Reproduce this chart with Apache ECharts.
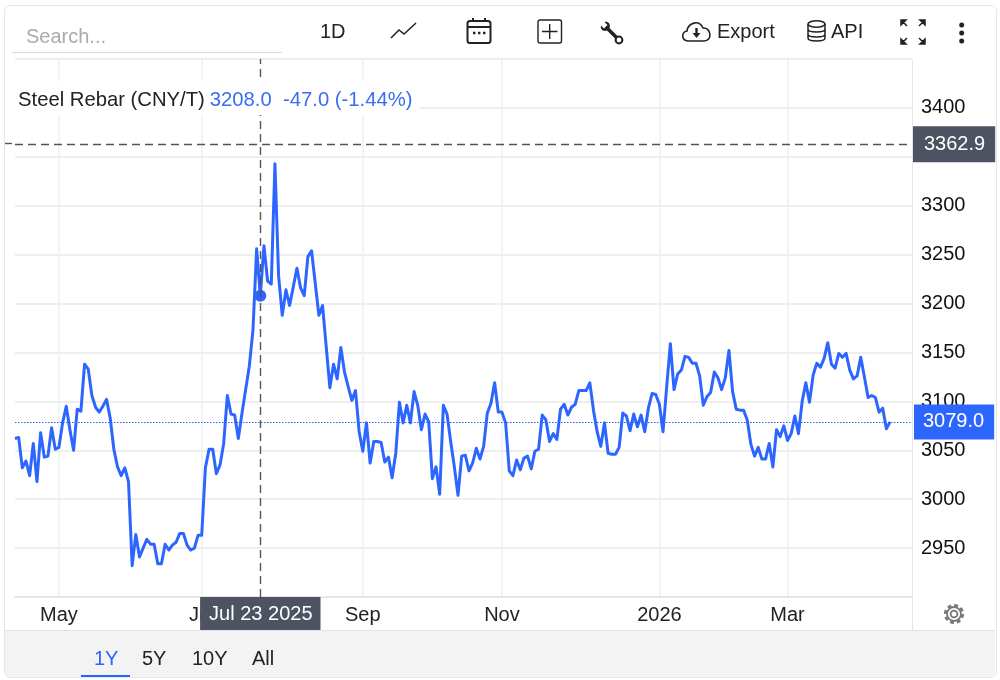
<!DOCTYPE html>
<html>
<head>
<meta charset="utf-8">
<title>Steel Rebar</title>
<script src="https://cdn.jsdelivr.net/npm/echarts@6/dist/echarts.min.js"></script>
<style>
html,body{margin:0;padding:0;background:#fff;font-family:"Liberation Sans",Arial,sans-serif;color:#222;}
#wrap{position:relative;width:1000px;height:680px;overflow:hidden;}
#one{position:absolute;left:0;top:0;width:1000px;height:680px;}
.ui{position:absolute;font-size:20px;line-height:24px;white-space:nowrap;}
.ico{position:absolute;overflow:visible;}
#card{position:absolute;left:4px;top:5px;width:991px;height:671px;border:1px solid #e6e6e6;border-radius:6px;}
#foot{position:absolute;left:5px;top:630px;width:990px;height:46px;background:#f3f3f3;border-top:1px solid #e3e3e3;border-radius:0 0 6px 6px;}
#search{position:absolute;left:12px;top:52px;width:270px;height:1px;background:#dcdcdc;}
#under{position:absolute;left:81px;top:675px;width:49px;height:2px;background:#2962ff;}
</style>
</head>
<body>
<div id="wrap">
	<div id="foot"></div>
	<div id="one"></div>
	<div id="card"></div>
	<div id="search"></div>
	<div class="ui" style="left:26px;top:24px;color:#aaa;">Search...</div>
	<div class="ui" style="left:320px;top:19px;">1D</div>
	<svg class="ico" style="left:390px;top:22px;" width="28" height="18" fill="none" stroke="#222" stroke-width="1.5"><path d="M1 16L9 8L14 12L26 1"/></svg>
	<svg class="ico" style="left:466px;top:17px;" width="26" height="28" fill="none" stroke="#222" stroke-width="2"><rect x="1.5" y="4" width="23" height="22" rx="2.5"/><path d="M1.5 10H24.5M7 1V4M19 1V4"/><path d="M7 16h2.4M12 16h2.4M17 16h2.4" stroke-width="2.4"/></svg>
	<svg class="ico" style="left:537px;top:19px;" width="26" height="25" fill="none" stroke="#222" stroke-width="1.4"><rect x="1" y="1" width="23.5" height="23" rx="2"/><path d="M12.7 5V20M5 12.5H20.5"/></svg>
	<svg class="ico" style="left:600px;top:21px;" width="24" height="24" fill="none" stroke="#222"><path d="M6 6L18 18" stroke-width="3.6"/><path d="M1 4.5L4 7.5L7.5 4L4.5 1C8 0 11 3 9.5 7L7 9.5C3 11 0 8 1 4.5Z" fill="#222" stroke="none"/><circle cx="19" cy="19" r="3.4" stroke-width="2" fill="#fff"/></svg>
	<svg class="ico" style="left:682px;top:20px;" width="30" height="23" fill="none" stroke="#222" stroke-width="1.6"><path d="M7 21C-1 21 -1 12 5 11C6 3 17 -1 21 8C29 7 31 21 22 21Z"/><path d="M14.5 8V15" stroke-width="2.4"/><path d="M10.5 13H18.5L14.5 18Z" fill="#222" stroke="none"/></svg>
	<div class="ui" style="left:717px;top:19px;">Export</div>
	<svg class="ico" style="left:807px;top:20px;" width="19" height="22" fill="none" stroke="#222" stroke-width="1.5"><ellipse cx="9.5" cy="4" rx="8.5" ry="3.2"/><path d="M1 4V18C1 22 18 22 18 18V4M1 9C1 13 18 13 18 9M1 14C1 18 18 18 18 14"/></svg>
	<div class="ui" style="left:831px;top:19px;">API</div>
	<svg class="ico" style="left:900px;top:19px;" width="26" height="26" fill="#222" stroke="#222" stroke-width="1.5"><path d="M1 1H6L1 6Z M2 2L7 7 M25 1H20L25 6Z M24 2L19 7 M1 25H6L1 20Z M2 24L7 19 M25 25H20L25 20Z M24 24L19 19"/></svg>
	<svg class="ico" style="left:957px;top:21px;" width="10" height="24" fill="#222"><circle cx="4.7" cy="4" r="2.5"/><circle cx="4.7" cy="12" r="2.5"/><circle cx="4.7" cy="20" r="2.5"/></svg>
	<svg class="ico" style="left:943px;top:603px;" width="22" height="22" fill="none" stroke="#777"><circle cx="11" cy="11" r="3.4" stroke-width="1.8"/><circle cx="11" cy="11" r="7" stroke-width="1.8"/><circle cx="11" cy="11" r="8.8" stroke-width="2.6" stroke-dasharray="3.9 3"/></svg>
	<div class="ui" style="left:94px;top:646px;color:#2962ff;">1Y</div>
	<div class="ui" style="left:142px;top:646px;">5Y</div>
	<div class="ui" style="left:192px;top:646px;">10Y</div>
	<div class="ui" style="left:252px;top:646px;">All</div>
	<div id="under"></div>
</div>
<script>
// trading days of each month, the axis is by trading day not by calendar
var apr25=['2025-04-15','2025-04-16','2025-04-17','2025-04-18','2025-04-21','2025-04-22','2025-04-23','2025-04-24','2025-04-25','2025-04-28','2025-04-29','2025-04-30'];
var may25=['2025-05-06','2025-05-07','2025-05-08','2025-05-09','2025-05-12','2025-05-13','2025-05-14','2025-05-15','2025-05-16','2025-05-19','2025-05-20','2025-05-21','2025-05-22','2025-05-23','2025-05-26','2025-05-27','2025-05-28','2025-05-29','2025-05-30'];
var jun25=['2025-06-03','2025-06-04','2025-06-05','2025-06-06','2025-06-09','2025-06-10','2025-06-11','2025-06-12','2025-06-13','2025-06-16','2025-06-17','2025-06-18','2025-06-19','2025-06-20','2025-06-23','2025-06-24','2025-06-25','2025-06-26','2025-06-27','2025-06-30'];
var jul25=['2025-07-01','2025-07-02','2025-07-03','2025-07-04','2025-07-07','2025-07-08','2025-07-09','2025-07-10','2025-07-11','2025-07-14','2025-07-15','2025-07-16','2025-07-17','2025-07-18','2025-07-21','2025-07-22','2025-07-23','2025-07-24','2025-07-25','2025-07-28','2025-07-29','2025-07-30','2025-07-31'];
var aug25=['2025-08-01','2025-08-04','2025-08-05','2025-08-06','2025-08-07','2025-08-08','2025-08-11','2025-08-12','2025-08-13','2025-08-14','2025-08-15','2025-08-18','2025-08-19','2025-08-20','2025-08-21','2025-08-22','2025-08-25','2025-08-26','2025-08-27','2025-08-28','2025-08-29'];
var sep25=['2025-09-01','2025-09-02','2025-09-03','2025-09-04','2025-09-05','2025-09-08','2025-09-09','2025-09-10','2025-09-11','2025-09-12','2025-09-15','2025-09-16','2025-09-17','2025-09-18','2025-09-19','2025-09-22','2025-09-23','2025-09-24','2025-09-25','2025-09-26','2025-09-29','2025-09-30'];
var oct25=['2025-10-10','2025-10-13','2025-10-14','2025-10-15','2025-10-16','2025-10-17','2025-10-20','2025-10-21','2025-10-22','2025-10-23','2025-10-24','2025-10-27','2025-10-28','2025-10-29','2025-10-30','2025-10-31'];
var nov25=['2025-11-03','2025-11-04','2025-11-05','2025-11-06','2025-11-07','2025-11-10','2025-11-11','2025-11-12','2025-11-13','2025-11-14','2025-11-17','2025-11-18','2025-11-19','2025-11-20','2025-11-21','2025-11-24','2025-11-25','2025-11-26','2025-11-27','2025-11-28'];
var dec25=['2025-12-01','2025-12-02','2025-12-03','2025-12-04','2025-12-05','2025-12-08','2025-12-09','2025-12-10','2025-12-11','2025-12-12','2025-12-15','2025-12-16','2025-12-17','2025-12-18','2025-12-19','2025-12-22','2025-12-23','2025-12-24','2025-12-25','2025-12-26','2025-12-29','2025-12-30','2025-12-31'];
var jan26=['2026-01-05','2026-01-06','2026-01-07','2026-01-08','2026-01-09','2026-01-12','2026-01-13','2026-01-14','2026-01-15','2026-01-16','2026-01-19','2026-01-20','2026-01-21','2026-01-22','2026-01-23','2026-01-26','2026-01-27','2026-01-28','2026-01-29','2026-01-30'];
var feb26=['2026-02-02','2026-02-03','2026-02-04','2026-02-05','2026-02-06','2026-02-09','2026-02-10','2026-02-11','2026-02-12','2026-02-13','2026-02-23','2026-02-24','2026-02-25','2026-02-26','2026-02-27'];
var mar26=['2026-03-02','2026-03-03','2026-03-04','2026-03-05','2026-03-06','2026-03-09','2026-03-10','2026-03-11','2026-03-12','2026-03-13','2026-03-16','2026-03-17','2026-03-18','2026-03-19','2026-03-20','2026-03-23','2026-03-24','2026-03-25','2026-03-26','2026-03-27','2026-03-30','2026-03-31'];
var apr26=['2026-04-01','2026-04-02','2026-04-03','2026-04-06','2026-04-07','2026-04-08','2026-04-09'];
// empty room on the right of the line
var blankDays=['2026-04-10','2026-04-13','2026-04-14','2026-04-15','2026-04-16','2026-04-17'];

var categories=[].concat(apr25,may25,jun25,jul25,aug25,sep25,oct25,nov25,dec25,jan26,feb26,mar26,apr26,blankDays);

var tickDates=['2025-05-06','2025-07-01','2025-09-01','2025-11-03','2026-01-05','2026-03-02'];
var tickLabels=['May','Jul','Sep','Nov','2026','Mar'];

var prices=[3062,3063,3032,3039,3024,3057,3018,3068,3043,3044,3073,3051,3053,3078,3095,3071,3050,3092,3090,3138,
3133,3106,3094,3089,3095,3102,3083,3051,3033,3024,3032,3018,2932,2964,2941,2950,2959,2954,2954,2934,
2934,2954,2948,2953,2956,2965,2965,2953,2948,2950,2963,2963,3032,3051,3051,3026,3035,3057,3106,3087,
3086,3062,3088,3112,3136,3173,3256,3208,3259,3223,3220,3343,3228,3188,3214,3198,3217,3236,3216,3208,
3248,3254,3221,3188,3198,3156,3114,3138,3123,3155,3130,3115,3101,3111,3069,3049,3078,3037,3059,3059,
3058,3038,3043,3022,3047,3099,3078,3096,3078,3110,3096,3071,3087,3079,3021,3033,3005,3096,3087,3059,
3033,3004,3044,3045,3029,3037,3052,3041,3054,3088,3098,3119,3089,3089,3078,3029,3024,3040,3030,3042,
3044,3031,3049,3051,3086,3081,3059,3067,3061,3092,3097,3086,3094,3097,3111,3111,3111,3119,3091,3069,
3054,3078,3047,3046,3046,3053,3088,3085,3070,3087,3074,3086,3069,3093,3108,3107,3097,3069,3115,3159,
3112,3128,3132,3146,3145,3139,3139,3126,3096,3105,3109,3130,3124,3112,3124,3152,3110,3092,3091,3091,
3081,3056,3044,3053,3041,3041,3057,3033,3071,3064,3075,3060,3067,3085,3067,3100,3119,3099,3127,3139,
3135,3144,3160,3138,3134,3149,3145,3149,3132,3123,3126,3145,3125,3104,3106,3104,3089,3093,3072,3079];

var crossDate='2025-07-23';
var crossDateLabel='Jul 23 2025';
var crossPrice=3208;
var crossY=3362.9;
var lastPrice=3079;

var blue='#2d66ff';
var dark='#4d5360';

(function(){
	var myChart=echarts.init(document.getElementById('one'));

	function isTick(index,value){
		return tickDates.indexOf(value)>=0;
	}

	myChart.setOption({
		animation:false,
		title:{
			left:15,
			top:79,
			padding:[9,7,5,3],
			backgroundColor:'#fff',
			z:100,
			text:'{a|Steel Rebar (CNY/T)} {b|3208.0\u00a0\u00a0-47.0 (-1.44%)}',
			textStyle:{
				fontWeight:'normal',
				rich:{
					a:{fontFamily:'Liberation Sans',fontSize:20.25,fontWeight:'normal',color:'#222',lineHeight:24},
					b:{fontFamily:'Liberation Sans',fontSize:20.25,fontWeight:'normal',color:'#3a6cf5',lineHeight:24}
				}
			}
		},
		grid:{left:15,right:88,top:59,height:538},
		xAxis:{
			type:'category',
			data:categories,
			boundaryGap:false,
			axisLine:{lineStyle:{color:'#e6e6e6',width:2}},
			axisTick:{show:false},
			axisLabel:{
				interval:isTick,
				margin:8,
				fontFamily:'Liberation Sans',
				fontSize:20,
				color:'#222',
				hideOverlap:false,
				formatter:function(value){
					return tickLabels[tickDates.indexOf(value)];
				}
			},
			splitLine:{show:true,interval:isTick,lineStyle:{color:'#edf1f5',width:1.5}},
			axisPointer:{
				show:true,
				status:'show',
				value:categories.indexOf(crossDate),
				snap:false,
				lineStyle:{color:'#555',type:[8,5],width:1.4},
				label:{
					show:true,
					margin:0,
					borderRadius:0,
					padding:[7,8,6,9],
					fontFamily:'Liberation Sans',
					fontSize:20,
					color:'#fff',
					backgroundColor:dark,
					formatter:function(){
						return crossDateLabel;
					}
				}
			}
		},
		yAxis:{
			type:'value',
			position:'right',
			min:2900,
			max:3450,
			interval:50,
			axisLine:{show:false},
			axisTick:{show:false},
			axisLabel:{
				showMinLabel:false,
				showMaxLabel:false,
				margin:9,
				fontFamily:'Liberation Sans',
				fontSize:20,
				color:'#111',
				formatter:function(value){
					return String(value);
				}
			},
			splitLine:{lineStyle:{color:'#e8e8e8',width:1.5}},
			axisPointer:{
				show:true,
				status:'show',
				value:crossY,
				snap:false,
				lineStyle:{color:'#555',type:[8,5],width:1.4},
				label:{
					show:true,
					margin:1,
					borderRadius:0,
					padding:[8,10,8,11],
					fontFamily:'Liberation Sans',
					fontSize:20,
					color:'#fff',
					backgroundColor:dark,
					formatter:function(){
						return crossY.toFixed(1);
					}
				}
			}
		},
		graphic:[
			// bits of frame that belong to the widget and not to the axes
			{type:'line',silent:true,z:60,shape:{x1:912.5,y1:59,x2:912.5,y2:630},style:{stroke:'#e6e6e6',lineWidth:1}},
			{type:'line',silent:true,z:60,shape:{x1:4,y1:143.5,x2:15,y2:143.5},style:{stroke:'#555',lineWidth:1.4,lineDash:[8,5]}}
		],
		series:[{
			type:'line',
			name:'Steel Rebar',
			data:prices,
			showSymbol:false,
			silent:true,
			lineStyle:{color:blue,width:3,join:'round'},
			itemStyle:{color:blue},
			markPoint:{
				silent:true,
				symbol:'circle',
				symbolSize:12,
				itemStyle:{color:blue},
				label:{show:false},
				data:[{coord:[crossDate,crossPrice]}]
			},
			markLine:{
				silent:true,
				symbol:'none',
				lineStyle:{color:'#2d5cff',type:[1.5,1.5],width:1.2},
				label:{
					show:true,
					position:'end',
					distance:2,
					padding:[8,10,7,9],
					fontFamily:'Liberation Sans',
					fontSize:20,
					color:'#fff',
					backgroundColor:blue,
					borderRadius:0,
					formatter:function(){
						return lastPrice.toFixed(1);
					}
				},
				data:[{yAxis:lastPrice}]
			}
		}]
	});
})();
</script>
</body>
</html>
